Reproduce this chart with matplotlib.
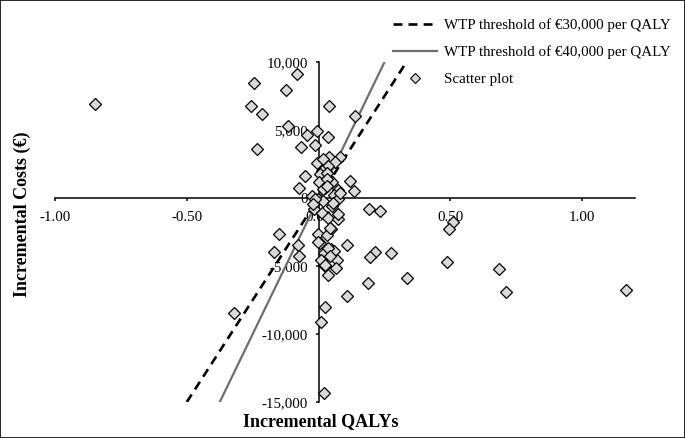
import matplotlib
matplotlib.use("Agg")
import matplotlib.pyplot as plt
from matplotlib.lines import Line2D
from matplotlib.patches import Rectangle
from matplotlib.ticker import FuncFormatter, MultipleLocator

plt.rcParams['font.family'] = ['Liberation Serif', 'DejaVu Serif']
plt.rcParams['axes.unicode_minus'] = False

# Scatter data (incremental QALYs, incremental costs in €)
qaly = [-0.85, -0.083, -0.244, -0.124, -0.255, -0.214, 0.040, 0.137, -0.116, -0.046,
        -0.005, 0.034, -0.235, -0.066, -0.013, 0.040, 0.082, -0.008, 0.017, 0.063,
        0.037, 0.012, -0.053, 0.004, 0.037, 0.000, 0.050, 0.120, -0.073, 0.025,
        0.075, 0.133, -0.024, -0.003, 0.059, 0.017, 0.072, 0.050, -0.016, 0.014,
        0.037, 0.072, 0.190, 0.233, 0.510, 0.495, 0.047, -0.003, 0.032, -0.152,
        0.005, -0.079, 0.108, 0.045, 0.057, -0.169, 0.020, 0.213, 0.275, 0.193,
        -0.074, 0.009, 0.068, 0.486, 0.025, 0.067, 0.686, 0.037, 0.336, 0.186,
        0.711, 1.166, 0.108, 0.025, -0.322, 0.009, 0.020,
        0.030, 0.032, 0.017, 0.030, -0.014, 0.055, 0.081, -0.021, 0.074, 0.043,
        -0.002, 0.036, 0.043, 0.024]
costs = [6900, 9150, 8465, 7970, 6765, 6150, 6765, 6000, 5310, 4650,
         4920, 4450, 3610, 3740, 3910, 3050, 3000, 2610, 2850, 2680,
         2360, 1990, 1620, 1740, 1500, 1175, 1175, 1250, 730, 730,
         580, 510, 140, -100, 190, -250, -100, -600, -840, -1090,
         -1460, -1530, -840, -990, -1730, -2270, -2270, -2615, -2690, -2615,
         -3300, -3430, -3450, -3745, -3920, -3995, -4040, -3995, -4040, -4365,
         -4240, -4535, -4585, -4735, -5030, -5150, -5220, -5640, -5915, -6255,
         -6920, -6800, -7190, -7985, -8425, -9090, -14310,
         1870, 1425, 690, 880, -50, -350, 390, -470, -1210, -2195,
         -3255, -3670, -4290, -4905]

# WTP threshold lines (endpoints in QALYs) and thresholds (€/QALY)
wtp30_q = [-0.5, 1/3]
wtp40_q = [-0.375, 0.25]
wtp30 = 30000
wtp40 = 40000

labels = ["WTP threshold of €30,000 per QALY",
          "WTP threshold of €40,000 per QALY",
          "Scatter plot"]

W, H = 685, 438
fig = plt.figure(figsize=(W/100, H/100), dpi=100)
ax = fig.add_axes([55/W, 1-402/H, 580/W, 340/H])

l30, = ax.plot(wtp30_q, [q*wtp30 for q in wtp30_q], color='black', lw=1.9,
               linestyle=(0, (3.4, 2.3)), zorder=2)
l40, = ax.plot(wtp40_q, [q*wtp40 for q in wtp40_q], color='#6e6e6e', lw=1.6,
               zorder=2)
ax.plot(qaly, costs, linestyle='none', marker='D', ms=6.2, mfc='#d9d9d9',
        mec='black', mew=0.9, zorder=3)

ax.set_xlim(-1.0, 1.2)
ax.set_ylim(-15000, 10000)
for s in ['top', 'right']:
    ax.spines[s].set_visible(False)
ax.spines['left'].set_position(('data', 0))
ax.spines['bottom'].set_position(('data', 0))
ax.spines['left'].set_linewidth(1.1)
ax.spines['bottom'].set_linewidth(1.1)
ax.xaxis.set_major_locator(MultipleLocator(0.5))
ax.yaxis.set_major_locator(MultipleLocator(5000))
ax.xaxis.set_major_formatter(FuncFormatter(lambda v, p: f"{v:.2f}"))
ax.yaxis.set_major_formatter(FuncFormatter(lambda v, p: f"{int(round(v)):,}"))
ax.tick_params(axis='both', direction='out', length=2.5, width=1.1,
               labelsize=10.8)
ax.tick_params(axis='x', pad=7)
ax.tick_params(axis='y', pad=5)
ax.patch.set_alpha(0)

fig.text(22/W, 1-214/H, "Incremental Costs (€)", rotation=90, ha='center',
         va='center', fontsize=13, fontweight='bold')
fig.text(321/W, 1-422/H, "Incremental QALYs", ha='center', va='center',
         fontsize=13, fontweight='bold')

h_sc = Line2D([], [], linestyle='none', marker='D', ms=5.2, mfc='#d9d9d9',
              mec='black', mew=0.8)
leg = ax.legend([l30, l40, h_sc], labels, loc='upper left',
                bbox_to_anchor=(393/W, 1-18/H), bbox_transform=fig.transFigure,
                frameon=False, fontsize=10.8, handlelength=2.9,
                handletextpad=0.5, labelspacing=0.9, borderpad=0,
                borderaxespad=0, numpoints=1)

fig.add_artist(Rectangle((0, 0), 1, 1, transform=fig.transFigure, fill=False,
                         edgecolor='black', lw=1.2))

fig.savefig("out.png", dpi=100)
